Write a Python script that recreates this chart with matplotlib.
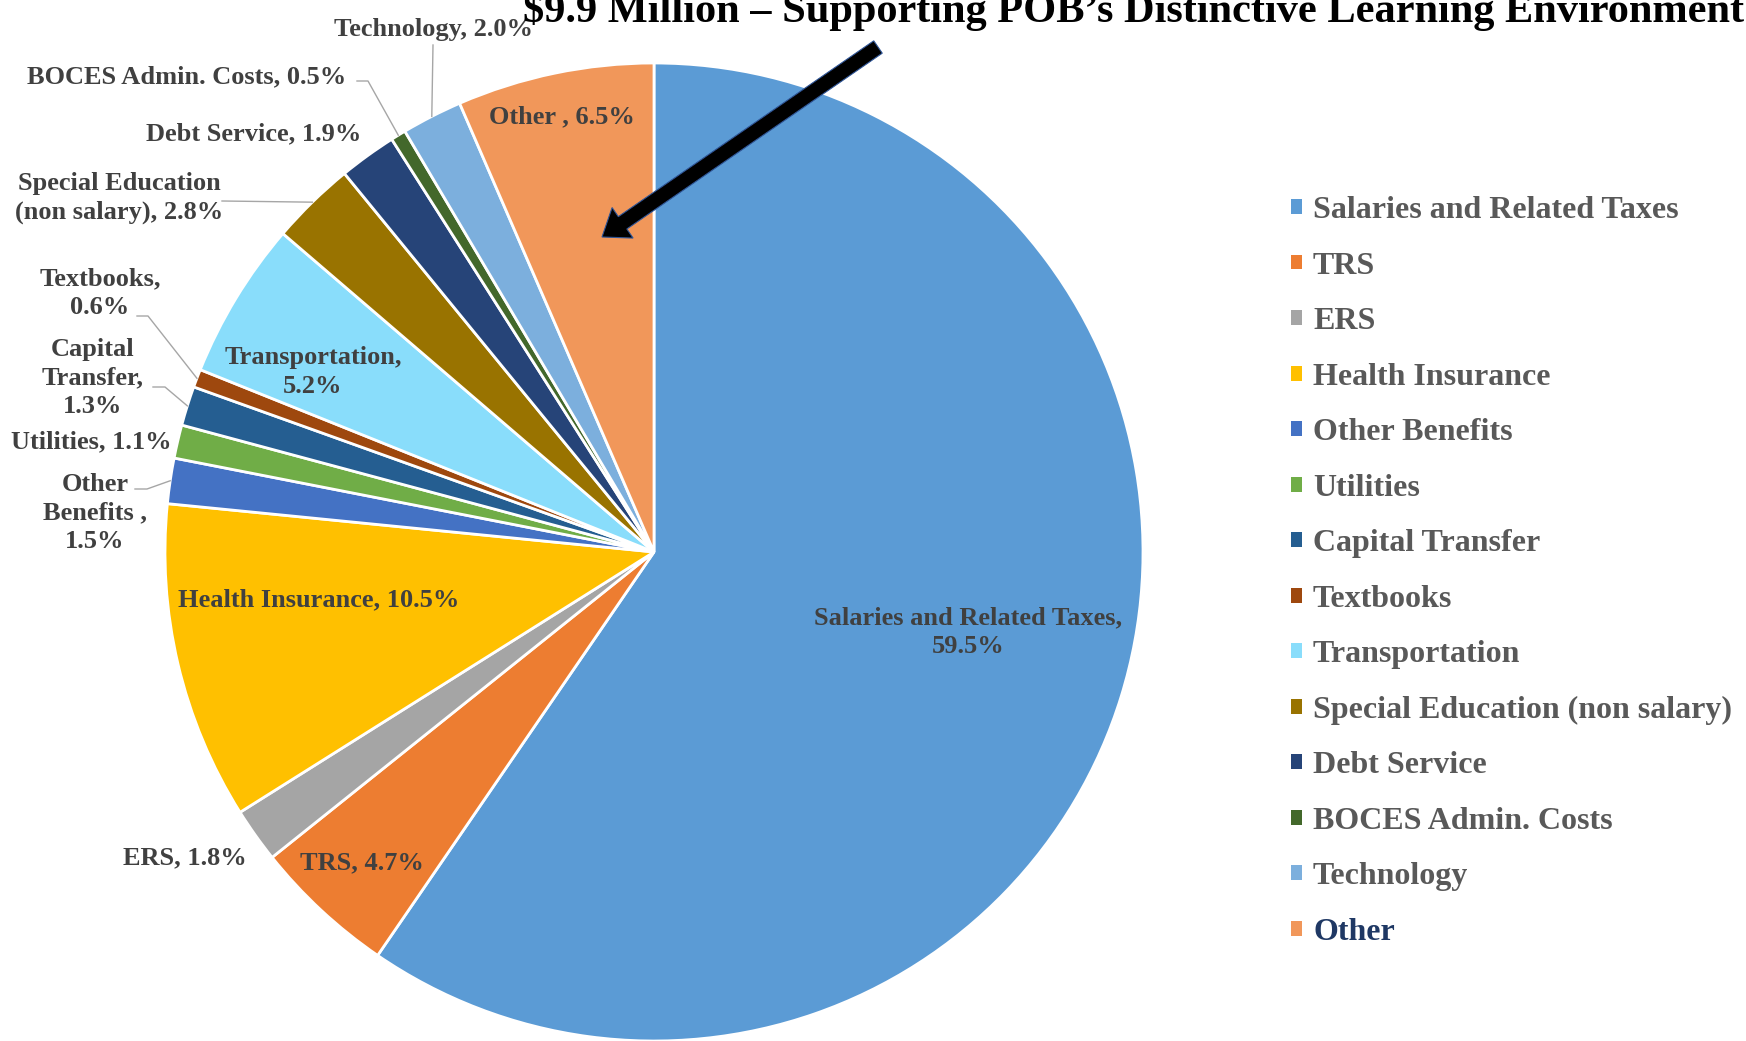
import numpy as np
import matplotlib.pyplot as plt
from matplotlib.patches import Patch

plt.rcParams['font.family'] = ['Liberation Serif', 'DejaVu Serif']
plt.rcParams['font.weight'] = 'bold'

# --- data ---
categories = ["Salaries and Related Taxes", "TRS", "ERS", "Health Insurance",
              "Other Benefits", "Utilities", "Capital Transfer", "Textbooks",
              "Transportation", "Special Education (non salary)", "Debt Service",
              "BOCES Admin. Costs", "Technology", "Other"]
shares = [59.5, 4.7, 1.8, 10.5, 1.5, 1.1, 1.3, 0.6, 5.2, 2.8, 1.9, 0.5, 2.0, 6.5]
colors = ["#5B9BD5", "#ED7D31", "#A5A5A5", "#FFC000", "#4472C4", "#70AD47",
          "#255E91", "#9E480E", "#89DDFB", "#997300", "#264478", "#43682B",
          "#7CAFDD", "#F1975A"]
label_formats = ["Salaries and Related Taxes,\n{:.1f}%", "TRS, {:.1f}%", "ERS, {:.1f}%",
                 "Health Insurance, {:.1f}%", "Other\nBenefits ,\n{:.1f}%",
                 "Utilities, {:.1f}%", "Capital\nTransfer,\n{:.1f}%", "Textbooks,\n{:.1f}%",
                 "Transportation,\n{:.1f}%", "Special Education\n(non salary), {:.1f}%",
                 "Debt Service, {:.1f}%", "BOCES Admin. Costs, {:.1f}%",
                 "Technology, {:.1f}%", "Other , {:.1f}%"]
legend_colors = ["#595959"] * 13 + ["#1F3864"]
title = "$9.9 Million \u2013 Supporting POB\u2019s Distinctive Learning Environment"

# --- layout (pixels of the 1746x1041 canvas) ---
W, H = 1746, 1041
CX, CY, R = 654, 552, 489

label_pos = [(968, 632), (362, 863), (185, 858), (319, 600), (95, 513), (91, 442),
             (93, 378), (100, 293), (313, 372), (119, 198), (254, 134), (187, 77),
             (433, 30), (562, 117)]
# leader lines: label-side points, the wedge end is added from the wedge angle
leaders = {4: [(135, 489), (147, 489)], 6: [(153, 387), (165, 387)],
           7: [(137, 316), (148, 316)], 9: [(222, 201)],
           11: [(357, 81), (368, 81)], 12: [(433, 45)]}


def to_data(x, y):
    return (x - CX) / R, (CY - y) / R


fig = plt.figure(figsize=(W / 100, H / 100), dpi=100)
ax = fig.add_axes([0, 0, 1, 1])
wedges, _ = ax.pie(shares, colors=colors, startangle=90, counterclock=False, radius=1,
                   wedgeprops=dict(edgecolor='white', linewidth=2))
ax.set_xlim(-CX / R, (W - CX) / R)
ax.set_ylim((CY - H) / R, CY / R)
ax.set_aspect('auto')
ax.axis('off')

for i, w in enumerate(wedges):
    x, y = to_data(*label_pos[i])
    ax.text(x, y, label_formats[i].format(shares[i]), ha='center', va='center',
            fontsize=19, color='#404040', linespacing=1.3)
    if i in leaders:
        mid = np.deg2rad((w.theta1 + w.theta2) / 2)
        pts = [to_data(*p) for p in leaders[i]] + [(np.cos(mid), np.sin(mid))]
        xs, ys = zip(*pts)
        ax.plot(xs, ys, color='#A6A6A6', lw=1, clip_on=False)

# arrow pointing at the "Other" slice
x0, y0 = to_data(878, 47)
x1, y1 = to_data(602, 237)
ax.arrow(x0, y0, x1 - x0, y1 - y0, width=15 / R, head_width=37 / R, head_length=25 / R,
         length_includes_head=True, fc='black', ec='#2F5597', lw=0.8, zorder=5)

fig.text(523 / W, 1 - 22 / H, title, ha='left', va='baseline', fontsize=30.5, color='black')

handles = [Patch(facecolor=c, edgecolor='none') for c in colors]
leg = ax.legend(handles, categories, loc='upper left',
                bbox_to_anchor=(1291 / W, 1 - 196 / H), bbox_transform=fig.transFigure,
                frameon=False, fontsize=23, handlelength=0.34, handleheight=0.34,
                handletextpad=0.35, labelspacing=0.83, borderpad=0, borderaxespad=0)
for t, c in zip(leg.get_texts(), legend_colors):
    t.set_color(c)

fig.savefig('out.png', dpi=100)
